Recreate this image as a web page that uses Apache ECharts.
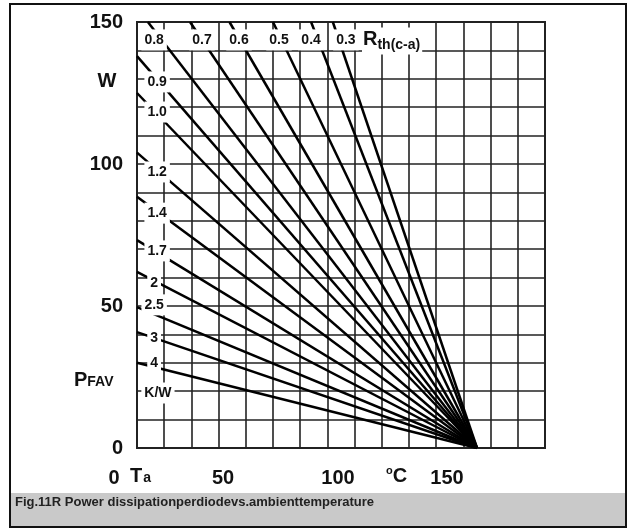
<!DOCTYPE html>
<html>
<head>
<meta charset="utf-8">
<script src="https://cdn.jsdelivr.net/npm/echarts@6/dist/echarts.min.js"></script>
<style>
  html, body { margin: 0; padding: 0; background: #fff; }
  #chart { width: 636px; height: 529px; }
</style>
</head>
<body>
<div id="chart"></div>
<script>
// Rth(c-a) curves, K/W. each line runs from (startTa, startP) down to (endTa, 0)
var rthLabels = ['0.3', '0.4', '0.5', '0.6', '0.7', '0.8', '0.9', '1.0', '1.2', '1.4', '1.7', '2', '2.5', '3', '4'];
var startTa = [72, 64, 50, 34, 19.5, 4, 0, 0, 0, 0, 0, 0, 0, 0, 0];
var startP = [150, 150, 150, 150, 150, 150, 138, 125, 104, 88.5, 73.2, 62, 49.6, 40.8, 30];
var endTa = 125;
var endP = 0;

// axis tick labels
var xTickLabels = ['0', '50', '100', '150'];
var yTickLabels = [0, 50, 100, 150];

// where the curve labels sit (Ta, P)
var labelTa = [76.8, 64, 52.2, 37.5, 23.9, 6.3, 7.4, 7.4, 7.4, 7.4, 7.4, 6.3, 6.3, 6.3, 6.3];
var labelP = [143.7, 143.7, 143.7, 143.7, 143.7, 143.7, 128.9, 118.3, 97.2, 82.7, 69.4, 58.1, 50.4, 38.7, 29.9];

// x tick labels in the figure are not aligned with the grid, so they are placed by pixel
var xTickPx = [114, 223, 338, 447];

var FONT = '"Liberation Sans", Arial, sans-serif';

var chart = echarts.init(document.getElementById('chart'));

var series = [];
rthLabels.forEach(function (r, i) {
  series.push({
    type: 'line',
    name: r,
    data: [[startTa[i], startP[i]], [endTa, endP]],
    symbol: 'none',
    silent: true,
    z: 3,
    lineStyle: { color: '#000', width: 2.5 }
  });
});

// curve labels with white boxes, drawn over the lines
var labelData = rthLabels.map(function (r, i) {
  return { value: [labelTa[i], labelP[i]], name: r };
});
labelData.push({ value: [7.7, 19.4], name: 'K/W' });

series.push({
  type: 'scatter',
  data: labelData,
  symbolSize: 0,
  silent: true,
  z: 5,
  itemStyle: { opacity: 1 },
  label: {
    show: true,
    position: 'inside',
    formatter: function (p) { return p.name; },
    fontFamily: FONT,
    fontWeight: 'bold',
    fontSize: 14,
    color: '#111',
    opacity: 1,
    backgroundColor: '#fff',
    padding: [4, 3, 3, 3]
  }
});

var graphics = [
  // outer frame
  { type: 'rect', shape: { x: 10, y: 4, width: 616, height: 523 }, style: { fill: 'none', stroke: '#111', lineWidth: 2 }, z: 10 },
  // caption bar
  { type: 'rect', shape: { x: 11, y: 493, width: 614, height: 33 }, style: { fill: '#c9c9c9' }, z: 9 },
  { type: 'text', x: 15, y: 502, z: 11, style: { text: 'Fig.11R Power dissipationperdiodevs.ambienttemperature', font: 'bold 13px ' + FONT, fill: '#222', textVerticalAlign: 'middle' } },
  // y unit and name
  { type: 'text', x: 107, y: 81, style: { text: 'W', font: 'bold 20px ' + FONT, fill: '#111', textAlign: 'center', textVerticalAlign: 'middle' } },
  { type: 'text', x: 74, y: 390, style: { text: '{a|P}{b|FAV}', textVerticalAlign: 'bottom', rich: {
    a: { font: 'bold 20px ' + FONT, fill: '#111', verticalAlign: 'bottom' },
    b: { font: 'bold 14px ' + FONT, fill: '#111', verticalAlign: 'bottom', padding: [0, 0, 1, 0] }
  } } },
  // x name and unit
  { type: 'text', x: 130, y: 486, style: { text: '{a|T}{b|a}', textVerticalAlign: 'bottom', rich: {
    a: { font: 'bold 20px ' + FONT, fill: '#111', verticalAlign: 'bottom' },
    b: { font: 'bold 14px ' + FONT, fill: '#111', verticalAlign: 'bottom', padding: [0, 0, 1, 1] }
  } } },
  { type: 'text', x: 386, y: 486, style: { text: '{o|o}{c|C}', textVerticalAlign: 'bottom', rich: {
    o: { font: 'bold 11px ' + FONT, fill: '#111', verticalAlign: 'bottom', padding: [0, 0, 10, 0] },
    c: { font: 'bold 20px ' + FONT, fill: '#111', verticalAlign: 'bottom' }
  } } },
  // Rth(c-a) legend text
  { type: 'text', x: 362, y: 41, z: 20, style: { text: '{a|R}{b|th(c-a)}', textVerticalAlign: 'middle', backgroundColor: '#fff', padding: [2, 2, 2, 1], rich: {
    a: { font: 'bold 20px ' + FONT, fill: '#111', verticalAlign: 'bottom', padding: [0, 0, 3, 0] },
    b: { font: 'bold 14px ' + FONT, fill: '#111', verticalAlign: 'bottom' }
  } } }
];

xTickLabels.forEach(function (t, i) {
  graphics.push({ type: 'text', x: xTickPx[i], y: 478, style: { text: t, font: 'bold 20px ' + FONT, fill: '#111', textAlign: 'center', textVerticalAlign: 'middle' } });
});

chart.setOption({
  animation: false,
  backgroundColor: '#fff',
  grid: {
    left: 137, top: 22, width: 408, height: 426,
    show: true, borderColor: '#222', borderWidth: 2, backgroundColor: 'transparent'
  },
  xAxis: {
    type: 'value', min: 0, max: 150, interval: 10,
    axisLine: { show: false }, axisTick: { show: false }, axisLabel: { show: false },
    splitLine: { show: true, lineStyle: { color: '#222', width: 1.6 } }
  },
  yAxis: {
    type: 'value', min: 0, max: 150, interval: 10,
    axisLine: { show: false }, axisTick: { show: false },
    axisLabel: {
      show: true, margin: 14, fontFamily: FONT, fontWeight: 'bold', fontSize: 20, color: '#111',
      formatter: function (v) { return yTickLabels.indexOf(v) >= 0 ? String(v) : ''; }
    },
    splitLine: { show: true, lineStyle: { color: '#222', width: 1.6 } }
  },
  series: series,
  graphic: graphics
});
</script>
</body>
</html>
